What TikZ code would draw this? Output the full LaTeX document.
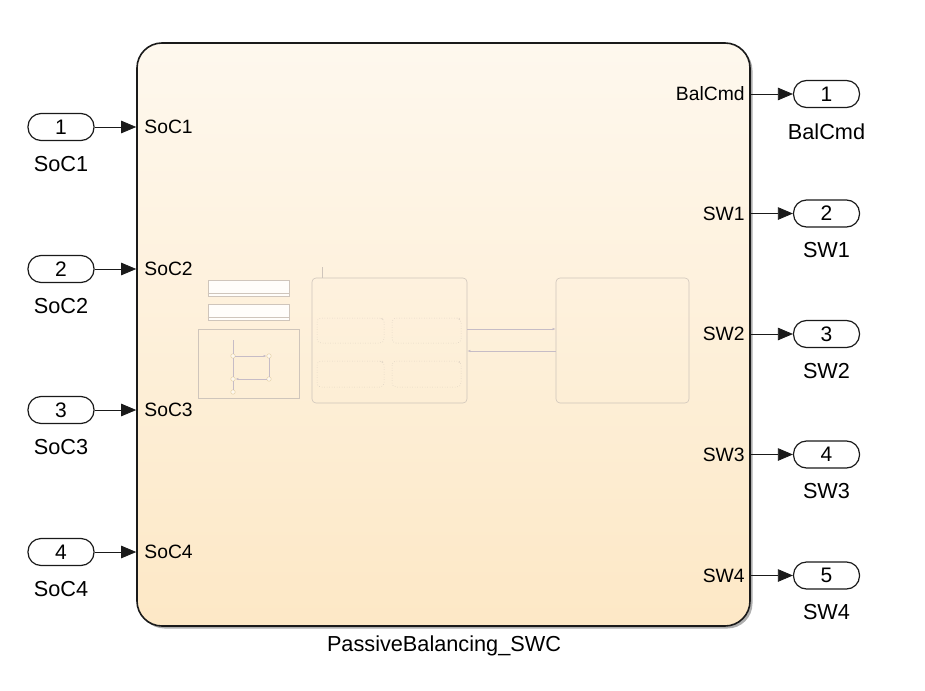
\documentclass[tikz,border=0pt]{standalone}
\usepackage{fontspec}
\setmainfont{Liberation Sans}
\usetikzlibrary{arrows.meta,positioning,calc,shadows}
\definecolor{edge}{HTML}{1A1A1A}
\definecolor{creamtop}{HTML}{FEF8EE}
\definecolor{creambot}{HTML}{FDE8C6}
\definecolor{faint}{HTML}{CFC5BB}
\definecolor{faintline}{HTML}{C6BCC6}
\definecolor{faintdot}{HTML}{E0CC9C}

\begin{document}
\begin{tikzpicture}[x=1pt, y=-1pt,
    subsys/.style={draw=edge, line width=1.6pt, rounded corners=25pt, top color=creamtop, bottom color=creambot, minimum width=613pt, minimum height=583pt, drop shadow={shadow xshift=2.5pt, shadow yshift=-2.5pt, fill=black!45, opacity=.7}},
    port/.style={draw=edge, line width=1.2pt, rounded corners=13pt, fill=white, minimum width=66pt, minimum height=27pt, inner sep=0pt, font=\fontsize{21}{24}\selectfont},
    portname/.style={font=\fontsize{21.7}{25}\selectfont, inner sep=0pt},
    innername/.style={font=\fontsize{19.3}{23}\selectfont, inner sep=0pt},
    sig/.style={-{Triangle[length=15pt, width=12.5pt]}, line width=0.8pt, color=edge},
    ghost/.style={draw=faint, line width=0.6pt},
    ghostbox/.style={draw=faint, line width=0.6pt, rounded corners=4pt},
    ghostsub/.style={draw=faint, line width=0.5pt, dotted, rounded corners=4pt},
    ghostarr/.style={-{Latex[length=3pt]}, draw=faintline, line width=0.5pt},
    pin/.style={circle, draw=faintdot, fill=creamtop, inner sep=0pt, minimum size=4.5pt}
]
\useasboundingbox (0,0) rectangle (925,690);

% Subsystem
\node[subsys] (swc) at (443.5,334.5) {};
\node[portname] (swclabel) at (444,646) {PassiveBalancing\_SWC};

% Faint contents of the subsystem
\node[ghost, fill=white!70!creamtop, minimum width=81pt, minimum height=16pt, inner sep=0pt] (bar1) at (248.5,288) {};
\node[ghost, fill=white!70!creamtop, minimum width=81pt, minimum height=16pt, inner sep=0pt] (bar2) at (248.5,312) {};
\draw[faint, line width=0.4pt] ($(bar1.south west)+(0,-3)$) -- ($(bar1.south east)+(0,-3)$);
\draw[faint, line width=0.4pt] ($(bar2.south west)+(0,-3)$) -- ($(bar2.south east)+(0,-3)$);
\node[ghost, minimum width=101pt, minimum height=69pt, inner sep=0pt] (chart) at (248.5,363.5) {};
\coordinate (c0) at (233,340);
\node[pin] (p1) at (233,356) {};
\node[pin] (p2) at (269,356) {};
\node[pin] (p3) at (269,379) {};
\node[pin] (p4) at (233,379) {};
\node[pin] (p5) at (233,392) {};
\draw[faintline, line width=0.5pt] (c0) -- (p1);
\draw[ghostarr] (p1) -- (p2);
\draw[faintline, line width=0.5pt] (p2) -- (p3);
\draw[ghostarr] (p3) -- (p4);
\draw[faintline, line width=0.5pt] (p1) -- (p4);
\draw[faintline, line width=0.5pt] (p4) -- (p5);

\node[ghostbox, minimum width=155pt, minimum height=125pt, inner sep=0pt] (ctrl) at (389.5,340.5) {};
\coordinate (tick) at (322,267);
\draw[faint, line width=0.5pt] (tick) -- (tick |- ctrl.north);
\node[ghostsub, minimum width=67pt, minimum height=25pt, inner sep=0pt] (s1) at (350.5,330.5) {};
\node[ghostsub, minimum width=69pt, minimum height=25pt, inner sep=0pt] (s2) at (426.5,330.5) {};
\node[ghostsub, minimum width=67pt, minimum height=26pt, inner sep=0pt] (s3) at (350.5,374) {};
\node[ghostsub, minimum width=69pt, minimum height=26pt, inner sep=0pt] (s4) at (426.5,374) {};
\foreach \k in {1,...,4}
  \node[font=\fontsize{3}{3}\selectfont, text=faint, anchor=north east, inner sep=0.8pt] at (s\k.north east) {\k};

\node[ghostbox, minimum width=133pt, minimum height=125pt, inner sep=0pt] (plant) at (622.5,340.5) {};
\draw[ghostarr] (ctrl.east |- 0,329) -- (plant.west |- 0,329);
\draw[ghostarr] (plant.west |- 0,351) -- (ctrl.east |- 0,351);

% Inports
\node[port] (in1) at (61,127) {1};
\node[port] (in2) at (61,269) {2};
\node[port] (in3) at (61,410) {3};
\node[port] (in4) at (61,552) {4};

% Outports
\node[port] (out1) at (826.5,94) {1};
\node[port] (out2) at (826.5,213.5) {2};
\node[port] (out3) at (826.5,334) {3};
\node[port] (out4) at (826.5,454.5) {4};
\node[port] (out5) at (826.5,575.5) {5};

% Port names
\foreach \i/\n in {1/SoC1,2/SoC2,3/SoC3,4/SoC4} {
  \node[portname, below=15pt of in\i] (inname\i) {\n};
  \draw[sig] (in\i) -- (in\i -| swc.west);
  \node[innername, anchor=west] (inlab\i) at ($(in\i -| swc.west)+(8,0)$) {\n};
}
\foreach \i/\n in {1/BalCmd,2/SW1,3/SW2,4/SW3,5/SW4} {
  \node[portname, below=15pt of out\i] (outname\i) {\n};
  \draw[sig] (out\i -| swc.east) -- (out\i);
  \node[innername, anchor=east] (outlab\i) at ($(out\i -| swc.east)+(-6,0)$) {\n};
}

\end{tikzpicture}
\end{document}
